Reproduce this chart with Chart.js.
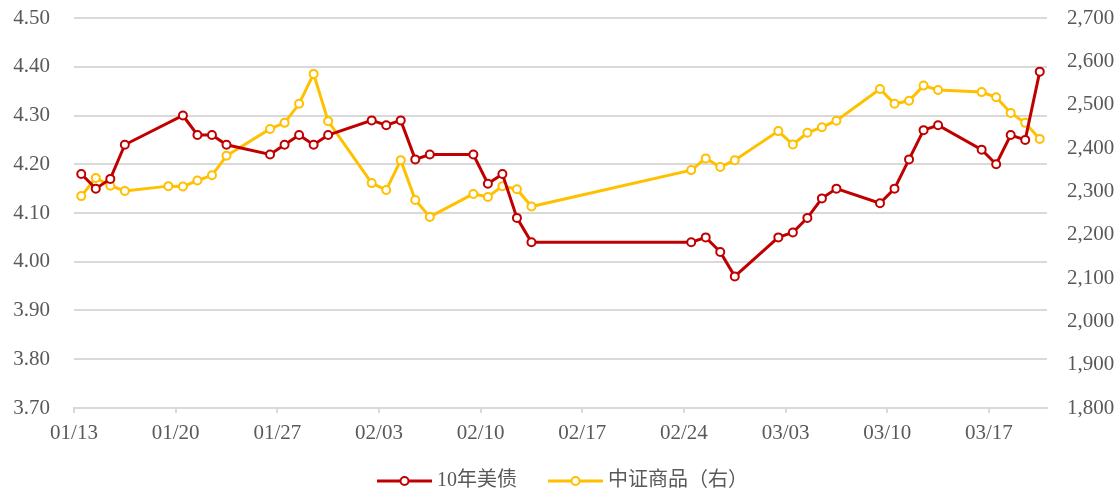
<!DOCTYPE html>
<html>
<head>
<meta charset="utf-8">
<script src="https://cdn.jsdelivr.net/npm/chart.js@4/dist/chart.umd.min.js"></script>
<style>
  html, body { margin: 0; padding: 0; background: #ffffff; }
  #wrap { width: 1114px; height: 492px; }
</style>
</head>
<body>
<div id="wrap"><canvas id="c" width="1114" height="492"></canvas></div>
<script>
// ---- data ----
const dates = ['01/13','01/14','01/15','01/16','01/19','01/20','01/21','01/22','01/23',
  '01/26','01/27','01/28','01/29','01/30','02/02','02/03','02/04','02/05','02/06',
  '02/09','02/10','02/11','02/12','02/13','02/24','02/25','02/26','02/27',
  '03/02','03/03','03/04','03/05','03/06','03/09','03/10','03/11','03/12','03/13',
  '03/16','03/17','03/18','03/19','03/20'];
const ust10y = [4.18,4.15,4.17,4.24,null,4.30,4.26,4.26,4.24,
  4.22,4.24,4.26,4.24,4.26,4.29,4.28,4.29,4.21,4.22,
  4.22,4.16,4.18,4.09,4.04,4.04,4.05,4.02,3.97,
  4.05,4.06,4.09,4.13,4.15,4.12,4.15,4.21,4.27,4.28,
  4.23,4.20,4.26,4.25,4.39];
const csiCommodity = [2289,2331,2313,2301,2312,2311,2325,2337,2382,
  2444,2458,2502,2571,2462,2319,2303,2372,2280,2241,
  2294,2287,2312,2305,2265,2349,2376,2356,2372,
  2439,2408,2435,2448,2463,2536,2502,2509,2544,2534,
  2529,2517,2481,2458,2421];
const xTickLabels = ['01/13','01/20','01/27','02/03','02/10','02/17','02/24','03/03','03/10','03/17'];
const seriesNames = ['10年美债','中证商品（右）'];
const colors = ['#C00000','#FFC000'];

// day offset from start (date axis, points centred in their day)
function dayOffset(md) {
  const [m, d] = md.split('/').map(Number);
  const t = Date.UTC(2025, m - 1, d);
  const s = Date.UTC(2025, 0, 13);
  return Math.round((t - s) / 86400000) + 0.5;
}
const xs = dates.map(dayOffset);
const redData = xs.map((x, i) => ({x, y: ust10y[i]}));
const yelData = xs.map((x, i) => ({x, y: csiCommodity[i]}));

const serif = '"Liberation Serif", "Times New Roman", "Noto Sans CJK SC", serif';
const gridColor = '#D9D9D9';
const textColor = '#595959';

// custom legend (line + hollow marker + text)
const legendPlugin = {
  id: 'lineLegend',
  afterDraw(chart) {
    const ctx = chart.ctx;
    const lineLen = 55, gapText = 5, gapItem = 31;
    const cy = 481;
    ctx.save();
    ctx.font = '20px ' + serif;
    const widths = seriesNames.map(n => ctx.measureText(n).width);
    const total = widths.reduce((a, b) => a + b, 0) + 2 * (lineLen + gapText) + gapItem;
    const center = (chart.chartArea.left + chart.chartArea.right) / 2 + 2;
    let x = center - total / 2;
    seriesNames.forEach((n, i) => {
      ctx.strokeStyle = colors[i];
      ctx.lineWidth = 3;
      ctx.beginPath();
      ctx.moveTo(x, cy);
      ctx.lineTo(x + lineLen, cy);
      ctx.stroke();
      ctx.beginPath();
      ctx.arc(x + lineLen / 2, cy, 4, 0, Math.PI * 2);
      ctx.fillStyle = '#ffffff';
      ctx.fill();
      ctx.lineWidth = 2;
      ctx.stroke();
      ctx.fillStyle = textColor;
      ctx.textBaseline = 'middle';
      ctx.textAlign = 'left';
      ctx.fillText(n, x + lineLen + gapText, cy);
      x += lineLen + gapText + widths[i] + gapItem;
    });
    ctx.restore();
  }
};

function noPad(s) { s.paddingTop = 0; s.paddingBottom = 0; s.paddingLeft = 0; s.paddingRight = 0; }

new Chart(document.getElementById('c'), {
  type: 'line',
  data: {
    datasets: [
      {
        label: seriesNames[0], data: redData, yAxisID: 'y',
        borderColor: colors[0], backgroundColor: '#ffffff',
        borderWidth: 3, pointRadius: 4, pointBorderWidth: 2,
        pointBackgroundColor: '#ffffff', pointBorderColor: colors[0],
        tension: 0, spanGaps: true
      },
      {
        label: seriesNames[1], data: yelData, yAxisID: 'y1',
        borderColor: colors[1], backgroundColor: '#ffffff',
        borderWidth: 3, pointRadius: 4, pointBorderWidth: 2,
        pointBackgroundColor: '#ffffff', pointBorderColor: colors[1],
        tension: 0, spanGaps: true
      }
    ]
  },
  options: {
    responsive: false,
    animation: false,
    devicePixelRatio: 1,
    layout: { padding: { top: 18, bottom: 0, left: 0, right: 0 } },
    plugins: { legend: { display: false }, tooltip: { enabled: false } },
    scales: {
      x: {
        type: 'linear', min: 0, max: 67,
        afterFit(s) { s.height = 84; noPad(s); },
        ticks: {
          stepSize: 7, includeBounds: false, autoSkip: false, maxRotation: 0,
          padding: 8, color: textColor, font: { family: serif, size: 21 },
          callback: (v) => xTickLabels[Math.round(v / 7)] ?? ''
        },
        grid: { drawOnChartArea: false, drawTicks: true, tickLength: 5, color: gridColor, lineWidth: 2 },
        border: { display: true, color: gridColor, width: 2 }
      },
      y: {
        position: 'left', min: 3.7, max: 4.5,
        afterFit(s) { s.width = 74; noPad(s); },
        ticks: {
          stepSize: 0.1, padding: 24, color: textColor, font: { family: serif, size: 21 },
          callback: (v) => Number(v).toFixed(2)
        },
        grid: { drawTicks: false, color: gridColor, lineWidth: 2 },
        border: { display: false }
      },
      y1: {
        position: 'right', min: 1800, max: 2700,
        afterFit(s) { s.width = 67; noPad(s); },
        ticks: {
          stepSize: 100, padding: 20, color: textColor, font: { family: serif, size: 21 },
          callback: (v) => Number(v).toLocaleString('en-US')
        },
        grid: { drawOnChartArea: false, drawTicks: false },
        border: { display: false }
      }
    }
  },
  plugins: [legendPlugin]
});
</script>
</body>
</html>
